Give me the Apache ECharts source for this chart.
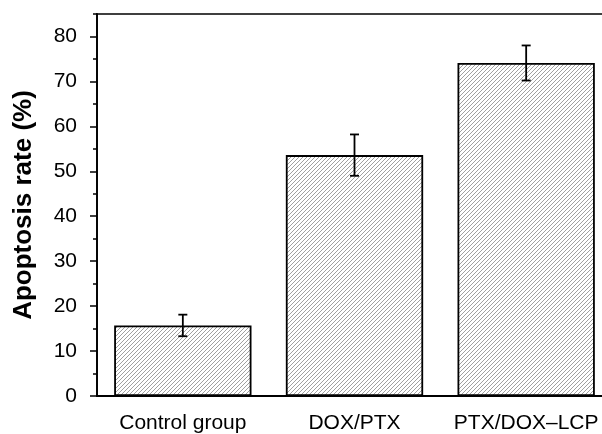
<!DOCTYPE html>
<html>
<head>
<meta charset="utf-8">
<script src="https://cdn.jsdelivr.net/npm/echarts@6/dist/echarts.min.js"></script>
<style>html,body{margin:0;padding:0;background:#fff;}#c{width:602px;height:434px;}</style>
</head>
<body>
<div id="c"></div>
<script>
const categories = ['Control group', 'DOX/PTX', 'PTX/DOX\u2013LCP'];
const means = [15.7, 53.6, 74.1];
const errors = [2.4, 4.6, 3.9];
const yTicks = [0, 10, 20, 30, 40, 50, 60, 70, 80];
const yMinorTicks = [5, 15, 25, 35, 45, 55, 65, 75, 85];

function hatch() {
  const s = 4;
  const c = document.createElement('canvas');
  c.width = s; c.height = s;
  const g = c.getContext('2d');
  g.fillStyle = '#fff'; g.fillRect(0, 0, s, s);
  g.strokeStyle = '#959595'; g.lineWidth = 0.9;
  g.beginPath();
  g.moveTo(0, s); g.lineTo(s, 0);
  g.moveTo(-1, 1); g.lineTo(1, -1);
  g.moveTo(s - 1, s + 1); g.lineTo(s + 1, s - 1);
  g.stroke();
  return c;
}

const errData = means.map((m, i) => [i, m - errors[i], m + errors[i]]);

const chart = echarts.init(document.getElementById('c'), null, {renderer: 'canvas'});
const font = 'Liberation Sans';
chart.setOption({
  backgroundColor: '#fff',
  animation: false,
  grid: {left: 97, right: -10, top: 14, bottom: 38, outerBoundsMode: 'none', containLabel: false,
    show: true, borderColor: '#000', borderWidth: 1.6, backgroundColor: 'transparent'},
  xAxis: [{
    type: 'category', data: categories, position: 'bottom',
    axisLine: {lineStyle: {color: '#000', width: 1.8}},
    axisTick: {alignWithLabel: true, length: 6, lineStyle: {color: '#000', width: 1.5}},
    axisLabel: {color: '#000', fontFamily: font, fontSize: 21, margin: 17, interval: 0}
  }, {
    type: 'category', data: categories, position: 'bottom',
    axisLine: {show: false},
    axisTick: {length: 4, lineStyle: {color: '#000', width: 1.5}},
    axisLabel: {show: false}
  }],
  yAxis: [{
    type: 'value', min: 0, max: 85, interval: 10,
    name: 'Apoptosis rate (%)', nameLocation: 'middle', nameGap: 60,
    nameTextStyle: {color: '#000', fontFamily: font, fontSize: 26, fontWeight: 'bold'},
    axisLine: {show: true, lineStyle: {color: '#000', width: 1.8}},
    axisTick: {show: true, length: 7, customValues: yTicks, lineStyle: {color: '#000', width: 1.5}},
    axisLabel: {color: '#000', fontFamily: font, fontSize: 21, margin: 20, customValues: yTicks},
    splitLine: {show: false}
  }, {
    type: 'value', min: 0, max: 85, position: 'left',
    axisLine: {show: false},
    axisTick: {show: true, length: 4, customValues: yMinorTicks, lineStyle: {color: '#000', width: 1.5}},
    axisLabel: {show: false},
    splitLine: {show: false}
  }],
  series: [{
    type: 'bar', data: means, barWidth: '80%',
    itemStyle: {color: {image: hatch(), repeat: 'repeat'}, borderColor: '#000', borderWidth: 1.8}
  }, {
    type: 'custom', data: errData, z: 5,
    renderItem: function (params, api) {
      const x = api.value(0);
      const lo = api.coord([x, api.value(1)]);
      const hi = api.coord([x, api.value(2)]);
      const w = 4.5;
      const st = {stroke: '#000', lineWidth: 1.8};
      return {type: 'group', children: [
        {type: 'line', shape: {x1: lo[0], y1: lo[1], x2: hi[0], y2: hi[1]}, style: st},
        {type: 'line', shape: {x1: lo[0] - w, y1: lo[1], x2: lo[0] + w, y2: lo[1]}, style: st},
        {type: 'line', shape: {x1: hi[0] - w, y1: hi[1], x2: hi[0] + w, y2: hi[1]}, style: st}
      ]};
    }
  }]
});
</script>
</body>
</html>
